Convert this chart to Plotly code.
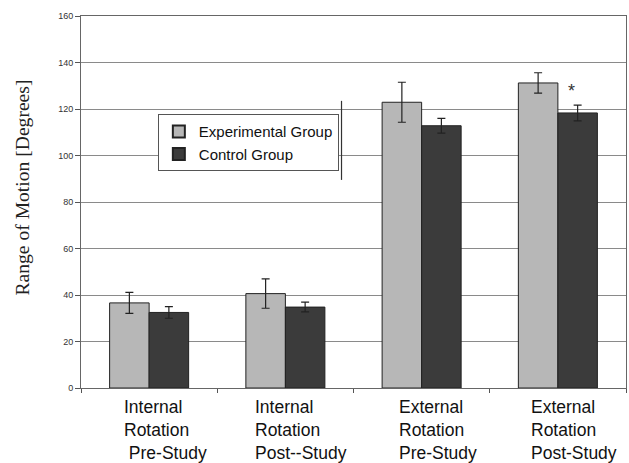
import plotly.graph_objects as go

categories = ["IR Pre", "IR Post", "ER Pre", "ER Post"]
tick_labels = ["Internal<br>Rotation<br> Pre-Study", "Internal<br>Rotation<br>Post--Study",
               "External<br>Rotation<br>Pre-Study", "External<br>Rotation<br>Post-Study"]
y_title = "Range of Motion [Degrees]"
experimental = [36.6, 40.6, 122.9, 131.2]
experimental_err = [4.5, 6.3, 8.6, 4.4]
control = [32.5, 34.8, 112.8, 118.3]
control_err = [2.5, 2.1, 3.2, 3.4]

fig = go.Figure()
fig.add_trace(go.Bar(name="Experimental Group", x=categories, y=experimental,
                     marker=dict(color="#b7b7b7", line=dict(color="#222", width=1)),
                     error_y=dict(type="data", array=experimental_err, color="#222", thickness=1.2, width=4)))
fig.add_trace(go.Bar(name="Control Group", x=categories, y=control,
                     marker=dict(color="#3b3b3b", line=dict(color="#222", width=1)),
                     error_y=dict(type="data", array=control_err, color="#222", thickness=1.2, width=4)))

annotations = []
for c, t in zip(categories, tick_labels):
    annotations.append(dict(x=c, y=0, xref="x", yref="y", yshift=-7, xshift=16, text=t,
                            showarrow=False, xanchor="center", yanchor="top", align="left",
                            font=dict(family="Liberation Sans, Arial", size=17.5, color="#111")))
annotations.append(dict(x=categories[3], y=control[3] + control_err[3] + 6, xref="x", yref="y",
                        xshift=14, text="*", showarrow=False,
                        font=dict(family="Liberation Sans, Arial", size=18, color="#333")))
annotations.append(dict(x=-0.107, y=0.538, xref="paper", yref="paper", text=y_title,
                        textangle=-90, showarrow=False, xanchor="center", yanchor="middle",
                        font=dict(family="Liberation Serif, Times New Roman", size=19.6, color="#222")))

shapes = [
    dict(type="rect", xref="paper", yref="y", x0=0.136, x1=0.478, y0=89.5, y1=122.5,
         fillcolor="white", line=dict(width=0), layer="between"),
    dict(type="line", xref="paper", yref="y", x0=0.478, x1=0.478, y0=89.5, y1=123.5,
         line=dict(color="#333", width=1.2)),
]

fig.update_layout(
    width=629, height=463,
    margin=dict(l=81, r=3, t=16, b=75),
    paper_bgcolor="white", plot_bgcolor="white",
    barmode="group", bargap=0.42, bargroupgap=0,
    showlegend=True,
    legend=dict(x=0.141, y=0.736, xanchor="left", yanchor="top",
                bgcolor="white", bordercolor="#555", borderwidth=1,
                font=dict(family="Liberation Sans, Arial", size=15, color="#111"),
                itemsizing="constant", tracegroupgap=2),
    annotations=annotations,
    shapes=shapes,
    xaxis=dict(showticklabels=False, ticks="outside", tickson="boundaries", ticklen=4,
               tickcolor="#555", showline=True, linecolor="#666", linewidth=1, mirror=True,
               showgrid=False, automargin=False),
    yaxis=dict(range=[0, 160], dtick=20, ticks="outside", ticklen=5, tickcolor="#555",
               showline=True, linecolor="#666", linewidth=1, mirror=True, automargin=False,
               showgrid=True, gridcolor="#8a8a8a", gridwidth=1,
               tickfont=dict(family="Liberation Sans, Arial", size=9, color="#333")),
)

fig.write_html("out.html", config={"displayModeBar": False},
               post_script="document.body.style.margin='0';document.body.style.padding='0';")
